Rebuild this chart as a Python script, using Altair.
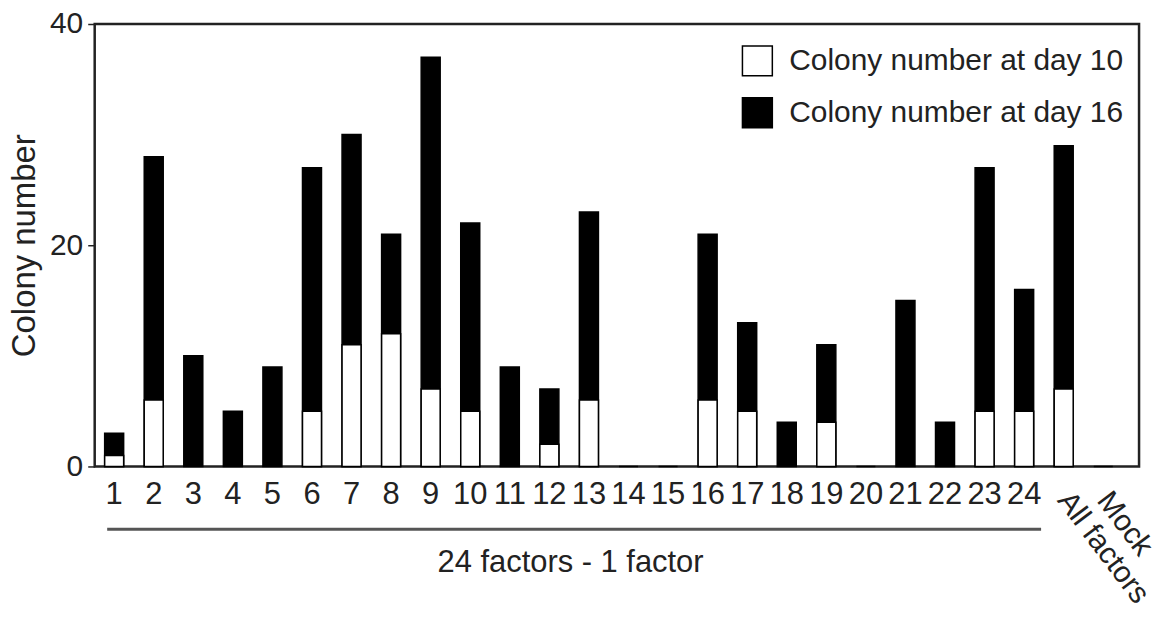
import altair as alt
import pandas as pd

categories = [str(i) for i in range(1, 25)] + ["All factors", "Mock"]
day10 = [1, 6, 0, 0, 0, 5, 11, 12, 7, 5, 0, 2, 6, 0, 0, 6, 5, 0, 4, 0, 0, 0, 5, 5, 7, 0]
day16 = [3, 28, 10, 5, 9, 27, 30, 21, 37, 22, 9, 7, 23, 0, 0, 21, 13, 4, 11, 0, 15, 4, 27, 16, 29, 0]
series_names = ["Colony number at day 10", "Colony number at day 16"]
y_ticks = [0, 20, 40]
rotated_labels = ["All factors", "Mock"]
group_label = "24 factors - 1 factor"

rows = []
for c, a, b in zip(categories, day10, day16):
    rows.append({"cat": c, "series": series_names[1], "value": b})
    rows.append({"cat": c, "series": series_names[0], "value": a})
df = pd.DataFrame(rows)

FONT = "Liberation Sans"
TXT = "#222222"

xscale = alt.Scale(domain=categories, paddingInner=0.52, paddingOuter=0.458, align=0.275)
yscale = alt.Scale(domain=[0, 40], nice=False)
color_scale = alt.Scale(domain=series_names, range=["white", "black"])

x_enc = alt.X(
    "cat:N", scale=xscale, sort=categories,
    axis=alt.Axis(
        title=group_label, titleFont=FONT, titleFontSize=31, titleFontWeight="normal",
        titleColor=TXT, titleX=477, titleY=96, titleBaseline="middle", titleAnchor="middle",
        labelFont=FONT, labelFontSize=31, labelColor=TXT, labelAngle=0,
        labelPadding=13, ticks=False, tickSize=0, domain=False,
        labelExpr="indexof(['All factors','Mock'], datum.label) >= 0 ? '' : datum.label",
    ),
)
y_enc = alt.Y(
    "value:Q", scale=yscale, stack=None,
    axis=alt.Axis(
        title="Colony number", titleFont=FONT, titleFontSize=33,
        titleFontWeight="normal", titleColor=TXT, titlePadding=8,
        values=y_ticks, labelFont=FONT, labelFontSize=30, labelColor=TXT,
        labelPadding=5, tickSize=7, tickColor=TXT, tickWidth=1.5, domain=False, grid=False,
    ),
)
color_enc = alt.Color(
    "series:N", scale=color_scale, title=None,
    legend=alt.Legend(
        orient="none", legendX=649, legendY=21, symbolType="square", symbolSize=900,
        symbolStrokeColor="black", symbolStrokeWidth=1.5, labelFont=FONT,
        labelFontSize=30, labelColor=TXT, labelOffset=16, rowPadding=16, padding=0,
        labelLimit=500,
    ),
)

base = alt.Chart(df)
black_bars = base.transform_filter(alt.datum.series == series_names[1]).mark_bar(
    stroke="black", strokeWidth=1.5
).encode(x=x_enc, y=y_enc, color=color_enc)
white_bars = base.transform_filter(
    (alt.datum.series == series_names[0]) & (alt.datum.value > 0)
).mark_bar(stroke="black", strokeWidth=1.5).encode(x=x_enc, y=y_enc, color=color_enc)

rot_df = pd.DataFrame({"cat": rotated_labels})
rot_text = alt.Chart(rot_df).mark_text(
    angle=53, align="left", baseline="middle", font=FONT, fontSize=30, color=TXT
).encode(x=alt.X("cat:N", scale=xscale, sort=categories), y=alt.value(473), text="cat:N")

line_df = pd.DataFrame({"start": [categories[0]], "end": [categories[23]]})
group_line = alt.Chart(line_df).mark_rule(
    color="#555555", strokeWidth=3, xOffset=-7, x2Offset=17
).encode(
    x=alt.X("start:N", scale=xscale, sort=categories), x2="end:N", y=alt.value(507)
)

chart = alt.layer(black_bars, white_bars, rot_text, group_line).properties(
    width=1048, height=444,
    autosize=alt.AutoSizeParams(type="none"),
    padding={"left": 87, "top": 15, "right": 14, "bottom": 150},
).configure_view(stroke="#222222", strokeWidth=2.5)

chart.save("out.html", embed_options={"renderer": "svg", "actions": False})
